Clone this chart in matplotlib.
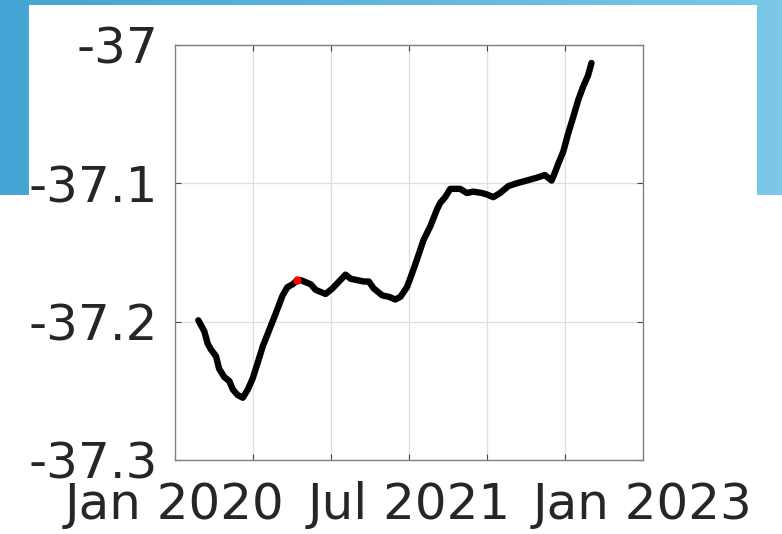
import numpy as np
import pandas as pd
import matplotlib
matplotlib.use("Agg")
import matplotlib.pyplot as plt
from matplotlib.colors import LinearSegmentedColormap
from matplotlib.patches import Rectangle

# traced series
dates = ["2019-06-22", "2019-07-13", "2019-07-25", "2019-08-05", "2019-08-23",
         "2019-09-03", "2019-09-21", "2019-10-09", "2019-10-21", "2019-11-07",
         "2019-11-25", "2019-12-13", "2019-12-30", "2020-01-16", "2020-02-03",
         "2020-02-26", "2020-03-20", "2020-04-13", "2020-04-30", "2020-05-18",
         "2020-06-04", "2020-06-16", "2020-07-21", "2020-08-07", "2020-09-11",
         "2020-10-05", "2020-10-28", "2020-11-20", "2020-12-08", "2021-01-01",
         "2021-01-24", "2021-02-10", "2021-02-27", "2021-03-29", "2021-04-21",
         "2021-05-14", "2021-06-01", "2021-06-24", "2021-07-12", "2021-07-29",
         "2021-08-21", "2021-09-14", "2021-10-07", "2021-10-19", "2021-11-05",
         "2021-11-23", "2021-12-28", "2022-01-20", "2022-02-12", "2022-03-14",
         "2022-03-31", "2022-04-23", "2022-05-17", "2022-06-15", "2022-07-14",
         "2022-08-18", "2022-09-22", "2022-10-21", "2022-11-14", "2022-11-26",
         "2022-12-07", "2022-12-25", "2023-01-11", "2023-01-29", "2023-02-15",
         "2023-03-05", "2023-03-22", "2023-04-03"]
values = [-37.199, -37.207, -37.216, -37.220, -37.225,
          -37.234, -37.240, -37.243, -37.249, -37.253,
          -37.255, -37.249, -37.241, -37.230, -37.218,
          -37.206, -37.194, -37.181, -37.175, -37.173,
          -37.170, -37.170, -37.173, -37.177, -37.180,
          -37.176, -37.171, -37.166, -37.169, -37.170,
          -37.171, -37.171, -37.176, -37.181, -37.182,
          -37.184, -37.182, -37.175, -37.165, -37.155,
          -37.141, -37.131, -37.119, -37.114, -37.110,
          -37.104, -37.104, -37.107, -37.106, -37.107,
          -37.108, -37.110, -37.107, -37.102, -37.100,
          -37.098, -37.096, -37.094, -37.098, -37.092,
          -37.086, -37.077, -37.064, -37.052, -37.040,
          -37.030, -37.022, -37.013]
highlight_date = "2020-06-04"
highlight_value = -37.170

grid_dates = ["2020-01-01", "2020-10-01", "2021-07-01", "2022-04-01", "2023-01-01"]
label_dates = ["2019-04-01", "2021-07-01", "2023-10-01"]
label_text = ["Jan 2020", "Jul 2021", "Jan 2023"]
yticks = [-37.3, -37.2, -37.1, -37.0]
ylabels = ["-37.3", "-37.2", "-37.1", "-37"]

x = pd.to_datetime(dates)

fig = plt.figure(figsize=(7.82, 5.34), dpi=100)

# slide background
bg = fig.add_axes([0, 0, 1, 1], zorder=0)
cmap = LinearSegmentedColormap.from_list("slide", ["#44a4d3", "#7bc8ea"])
bg.imshow(np.linspace(0, 1, 256).reshape(1, -1), cmap=cmap, aspect="auto", extent=[0, 1, 0, 1])
bg.add_patch(Rectangle((29 / 782, 0), (757 - 29) / 782, 1 - 5 / 534, color="white", lw=0))
bg.add_patch(Rectangle((0, 0), 1, 1 - 195 / 534, color="white", lw=0))
bg.set_xlim(0, 1)
bg.set_ylim(0, 1)
bg.axis("off")

ax = fig.add_axes([175 / 782, 74 / 534, 468 / 782, 415 / 534], zorder=1)
ax.plot(x, values, color="black", lw=4.6, solid_capstyle="round", solid_joinstyle="round")
ax.plot(pd.to_datetime([highlight_date]), [highlight_value], "o", color="red", ms=5, mec="red")

ax.set_xlim(pd.Timestamp("2019-04-01"), pd.Timestamp("2023-10-01"))
ax.set_ylim(-37.3, -37.0)

ax.xaxis.remove_overlapping_locs = False
ax.set_xticks(pd.to_datetime(grid_dates))
ax.set_xticklabels([""] * len(grid_dates))
ax.set_xticks(pd.to_datetime(label_dates), minor=True)
ax.set_xticklabels(label_text, minor=True)
ax.set_yticks(yticks)
ax.set_yticklabels(ylabels)

ax.grid(True, which="major", color="#dedede", lw=0.9)
ax.tick_params(axis="both", which="major", direction="in", length=4, width=0.8,
               color="#444444", top=True, right=True, labelsize=36, labelcolor="#262626")
ax.tick_params(axis="x", which="minor", length=0, labelsize=36, labelcolor="#262626", pad=15)
ax.tick_params(axis="y", which="major", pad=12)
for s in ax.spines.values():
    s.set_color("#808080")
    s.set_linewidth(1.0)

fig.savefig("out.png", dpi=100)
